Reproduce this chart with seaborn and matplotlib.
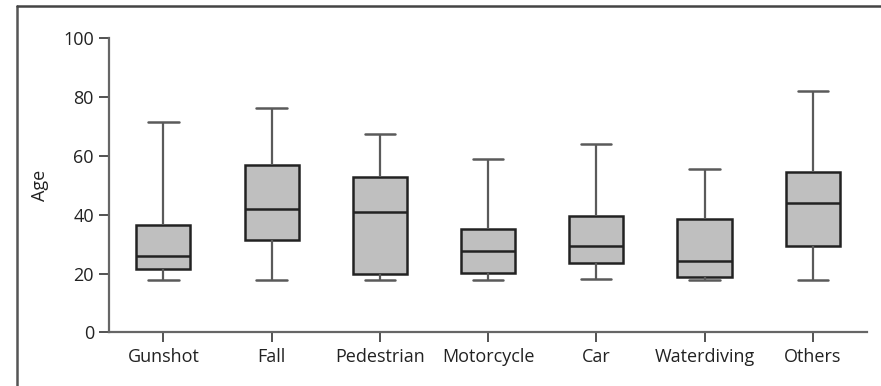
import matplotlib
matplotlib.use("Agg")
import matplotlib.pyplot as plt
from matplotlib.lines import Line2D
import pandas as pd
import seaborn as sns

# Five-number summaries of age by injury mechanism
categories = ["Gunshot", "Fall", "Pedestrian", "Motorcycle", "Car", "Waterdiving", "Others"]
whisker_low = [17.8, 17.8, 17.7, 17.7, 18.1, 17.8, 17.7]
q1 = [21.4, 31.5, 19.9, 20.3, 23.6, 18.7, 29.5]
median = [25.9, 41.9, 40.9, 27.5, 29.4, 24.1, 44.0]
q3 = [36.4, 56.8, 52.7, 35.1, 39.4, 38.6, 54.6]
whisker_high = [71.5, 76.4, 67.6, 58.9, 63.9, 55.4, 82.0]
y_ticks = [0, 20, 40, 60, 80, 100]

rows = []
for i, cat in enumerate(categories):
    for v in (whisker_low[i], q1[i], median[i], q3[i], whisker_high[i]):
        rows.append({"Injury": cat, "Age": v})
df = pd.DataFrame(rows)

sns.set_style("white")
plt.rcParams["font.family"] = ["Open Sans", "DejaVu Sans"]

fig = plt.figure(figsize=(8.81, 3.86), dpi=100)
ax = fig.add_axes([0.124, 0.139, 0.860, 0.762])

sns.boxplot(
    data=df, x="Injury", y="Age", order=categories,
    whis=(0, 100), width=0.5, color="#bfbfbf", linecolor="#222222",
    linewidth=1.8, fliersize=0,
    whiskerprops=dict(color="#5a5a5a", linewidth=1.6),
    capprops=dict(color="#5a5a5a", linewidth=1.8),
    capwidths=0.28,
    ax=ax,
)
for patch in ax.patches:
    patch.set_facecolor("#bfbfbf")

ax.set_xlim(-0.5, 6.5)
ax.set_ylim(0, 100)
ax.set_yticks(y_ticks)
ax.set_xlabel("")
ax.set_ylabel("Age", fontsize=13, color="#222222", labelpad=10)

for side in ("top", "right"):
    ax.spines[side].set_visible(False)
for side in ("left", "bottom"):
    ax.spines[side].set_color("#666666")
    ax.spines[side].set_linewidth(1.6)

ax.tick_params(axis="both", which="major", direction="out", length=7, width=1.3,
               color="#444444", labelsize=13, labelcolor="#222222", pad=4,
               left=True, bottom=True)

# Panel frame: top and left edges
fig.add_artist(Line2D([17 / 881, 17 / 881], [0, 1 - 5.5 / 386], transform=fig.transFigure,
                      color="#555555", linewidth=1.8))
fig.add_artist(Line2D([17 / 881, 1], [1 - 5.5 / 386, 1 - 5.5 / 386], transform=fig.transFigure,
                      color="#444444", linewidth=1.8))

fig.savefig("out.png", dpi=100)
